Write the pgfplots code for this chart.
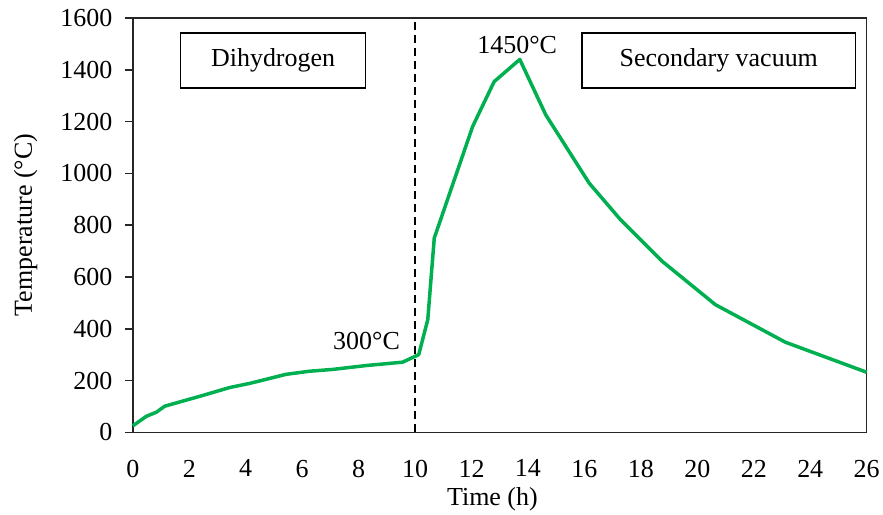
\documentclass[border=0pt]{standalone}
\usepackage{pgfplots}
\pgfplotsset{compat=1.18}
\usepackage{fontspec}
\setmainfont{Liberation Serif}
\definecolor{lgreen}{RGB}{0,176,80}
\begin{document}
\begin{tikzpicture}
\begin{axis}[
  scale only axis, width=735pt, height=415pt,
  xmin=0, xmax=26, ymin=0, ymax=1600,
  xtick={0,2,...,26}, ytick={0,200,...,1600},
  ytick pos=left,
  font=\fontsize{26}{30}\selectfont,
  /pgf/number format/assume math mode=true,
  /pgf/number format/1000 sep={},
  axis line style={line width=1.5pt, black!85},
  x tick style={draw=none},
  y tick style={line width=1.5pt, black!85},
  tick align=outside, major tick length=8pt,
  xticklabel style={yshift=-16pt},
  yticklabel style={xshift=-9pt},
  xlabel={Time (h)}, ylabel={Temperature (°C)},
  xlabel style={at={(axis description cs:0.49,-0.162)}, anchor=center},
  ylabel style={at={(axis description cs:-0.146,0.5)}, anchor=center},
  clip=false,
]
\addplot[lgreen, line width=3.5pt, line join=round] coordinates {
(0,25)(0.48,62)(0.84,78)(1.13,101)(2.4,140)(3.43,173)(4.14,189)(5.43,224)(6.26,236)(7.08,243)(8.27,258)(9.56,271)(10.13,300)(10.45,435)(10.68,750)(12.04,1181)(12.8,1354)(13.71,1440)(14.63,1226)(16.17,962)(17.28,821)(18.76,660)(20.64,493)(23.12,348)(26,232)
};
\addplot[black, line width=2pt, dash pattern=on 8pt off 5pt] coordinates {(10,0)(10,1600)};
\node[draw, line width=1.5pt, minimum width=185pt, minimum height=55pt, inner sep=0pt] at (axis cs:4.97,1436) {Dihydrogen};
\node[draw, line width=1.5pt, minimum width=274pt, minimum height=55pt, inner sep=0pt] at (axis cs:20.76,1436) {Secondary vacuum};
\node at (axis cs:13.62,1496) {1450°C};
\node at (axis cs:8.28,351) {300°C};
\path ([yshift=18pt]axis description cs:0,1) ([xshift=15pt]axis description cs:1,0)
      ([xshift=-133pt]axis description cs:0,0.5) ([yshift=-82pt]axis description cs:0,0);
\end{axis}
\end{tikzpicture}
\end{document}
